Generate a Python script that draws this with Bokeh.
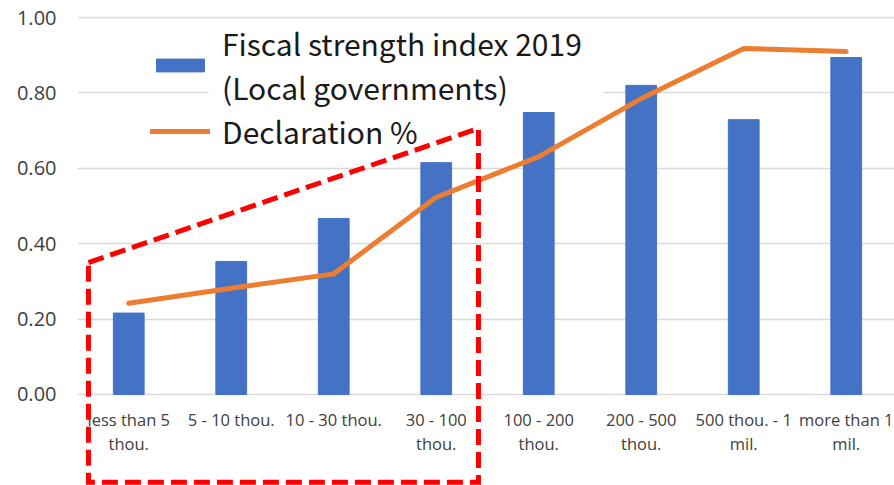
from bokeh.plotting import figure
from bokeh.models import ColumnDataSource, Legend, LegendItem, FixedTicker, Range1d, BoxAnnotation
from bokeh.core.properties import value
from bokeh.embed import file_html
from bokeh.resources import INLINE

# ---- data ----
categories = ["less than 5\nthou.", "5 - 10 thou.", "10 - 30 thou.", "30 - 100\nthou.",
              "100 - 200\nthou.", "200 - 500\nthou.", "500 thou. - 1\nmil.", "more than 1\nmil."]
fiscal_strength = [0.216, 0.353, 0.467, 0.615, 0.748, 0.820, 0.729, 0.894]
declaration_pct = [0.242, 0.282, 0.320, 0.523, 0.631, 0.785, 0.918, 0.910]
y_ticks = [0.0, 0.2, 0.4, 0.6, 0.8, 1.0]
y_tick_labels = ["0.00", "0.20", "0.40", "0.60", "0.80", "1.00"]
series_names = ["Fiscal strength index 2019\n(Local governments)", "Declaration %"]
# hand-drawn highlight around the first four groups (category units / value units)
highlight_x = [0.107, 3.912, 3.912, 0.107, 0.107]
highlight_y = [0.350, 0.706, -0.233, -0.233, 0.350]

xpos = [i + 0.5 for i in range(len(categories))]
src = ColumnDataSource(dict(x=xpos, cat=categories, fs=fiscal_strength, dp=declaration_pct))

p = figure(width=894, height=485, output_backend="svg", toolbar_location=None,
           x_axis_location=None, x_range=Range1d(0, 7.971), y_range=Range1d(-0.2414, 1.0451),
           min_border_left=77, min_border_right=0, min_border_top=0, min_border_bottom=0)
p.outline_line_color = None
p.background_fill_color = "white"
p.border_fill_color = "white"

p.xgrid.visible = False
p.ygrid.grid_line_color = "#d9d9d9"
p.ygrid.grid_line_width = 1.5

# the legend text sits over the 0.80 gridline in the reference, hiding part of it
p.add_layout(BoxAnnotation(left=1.28, right=5.13, bottom=0.792, top=0.808,
                           fill_color="white", fill_alpha=1.0, line_color=None,
                           level="underlay"))

ax = p.yaxis[0]
ax.ticker = FixedTicker(ticks=y_ticks)
ax.major_label_overrides = {t: l for t, l in zip(y_ticks, y_tick_labels)}
ax.axis_line_color = None
ax.major_tick_line_color = None
ax.minor_tick_line_color = None
ax.major_tick_out = 0
ax.major_label_standoff = 21
ax.major_label_text_font = "Open Sans"
ax.major_label_text_font_size = "20px"
ax.major_label_text_color = "#404040"

bars = p.vbar(x="x", top="fs", width=0.30, bottom=0, source=src,
              fill_color="#4472C4", line_color="#4472C4")
line = p.line(x="x", y="dp", source=src, line_color="#ED7D31", line_width=5,
              line_cap="round", line_join="round")

p.text(x="x", y=-0.037, text="cat", source=src, text_align="center", text_baseline="top",
       text_font=value("Open Sans"), text_font_size="16.5px", text_color="#404040",
       text_line_height=1.02)

p.line(x=highlight_x, y=highlight_y, line_color="#FF0000", line_width=5,
       line_dash="16 7", line_join="miter")

legend = Legend(items=[LegendItem(label=series_names[0], renderers=[bars]),
                       LegendItem(label=series_names[1], renderers=[line])],
                location=(73, 332), orientation="vertical")
legend.label_text_font = "Noto Sans CJK JP"
legend.label_text_font_size = "30px"
legend.label_text_color = "#1a1a1a"
legend.glyph_width = 60
legend.glyph_height = 16
legend.label_standoff = 12
legend.spacing = -4
legend.padding = 0
legend.margin = 0
legend.border_line_color = None
legend.background_fill_alpha = 0.0
p.add_layout(legend)

open("out.html", "w").write(file_html(p, INLINE))
